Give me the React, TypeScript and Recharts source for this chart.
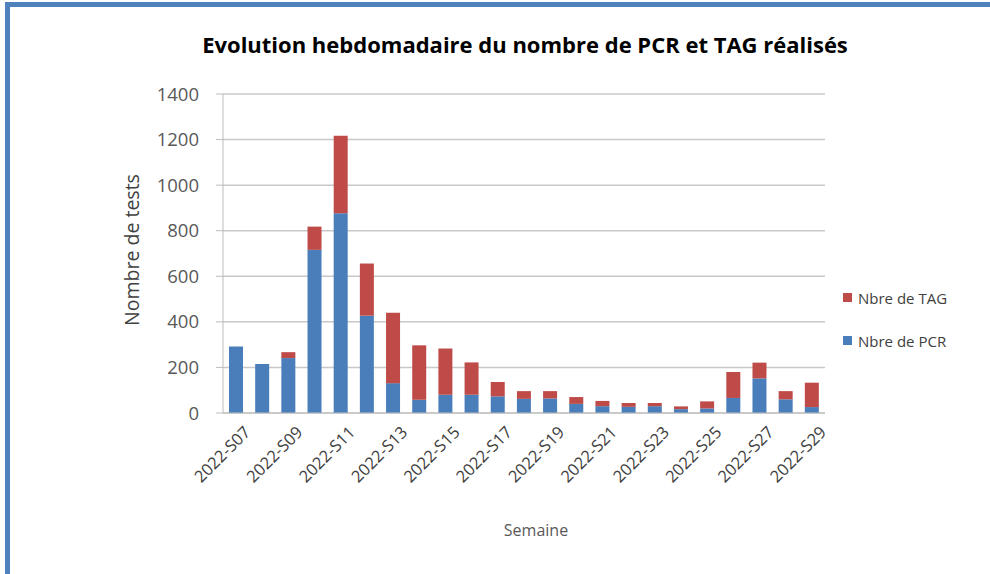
import React from 'react';
import { BarChart, Bar, XAxis, YAxis, CartesianGrid, Label } from 'recharts';

const weeks = [
	'2022-S07', '2022-S08', '2022-S09', '2022-S10', '2022-S11', '2022-S12',
	'2022-S13', '2022-S14', '2022-S15', '2022-S16', '2022-S17', '2022-S18',
	'2022-S19', '2022-S20', '2022-S21', '2022-S22', '2022-S23', '2022-S24',
	'2022-S25', '2022-S26', '2022-S27', '2022-S28', '2022-S29'
];
const pcrValues = [292, 215, 241, 716, 877, 427, 131, 58, 80, 80, 73, 62, 64, 40, 30, 27, 30, 17, 20, 66, 152, 60, 26];
const tagValues = [0, 0, 26, 102, 340, 229, 309, 239, 203, 142, 63, 34, 32, 30, 23, 17, 14, 12, 31, 114, 69, 36, 107];
const yTicks = [0, 200, 400, 600, 800, 1000, 1200, 1400];

const data = weeks.map((week, i) => ({ week, pcr: pcrValues[i], tag: tagValues[i] }));

const FONT = '"Open Sans", sans-serif';
const BLUE = '#4a7ebb';
const RED = '#be4b48';

const WeekTick = (props: any) => {
	const { x, y, payload } = props;
	return (
		<g transform={`translate(${x + 9},${y + 6})`}>
			<text
				x={0}
				y={0}
				dy={9}
				textAnchor="end"
				transform="rotate(-45)"
				fontSize={16.5}
				fontFamily={FONT}
				fill="#404040"
			>
				{payload.value}
			</text>
		</g>
	);
};

const App: React.FC = () => {
	return (
		<div style={{ position: 'absolute', left: 0, top: 0, width: 990, height: 574, background: '#fff', overflow: 'hidden' }}>
			<div style={{ position: 'absolute', left: 5, top: 2, width: 990, height: 5, background: '#4f81bd' }} />
			<div style={{ position: 'absolute', left: 5, top: 2, width: 5, height: 580, background: '#4f81bd' }} />
			<div
				style={{
					position: 'absolute',
					left: 0,
					width: 1050,
					top: 29,
					textAlign: 'center',
					fontFamily: FONT,
					fontWeight: 700,
					fontSize: 22,
					color: '#000'
				}}
			>
				Evolution hebdomadaire du nombre de PCR et TAG réalisés
			</div>
			<BarChart
				width={990}
				height={574}
				data={data}
				margin={{ top: 94, right: 165, left: 123, bottom: 36 }}
				style={{ position: 'absolute', left: 0, top: 0 }}
			>
				<CartesianGrid vertical={false} stroke="#c8c8c8" strokeWidth={1.5} />
				<XAxis
					dataKey="week"
					interval={1}
					tickLine={false}
					stroke="#bdbdbd"
					height={125}
					tick={<WeekTick />}
				>
					<Label
						value="Semaine"
						position="insideBottom"
						offset={2}
						dx={12}
						style={{ fontFamily: FONT, fontSize: 16, fill: '#595959' }}
					/>
				</XAxis>
				<YAxis
					width={100}
					domain={[0, 1400]}
					ticks={yTicks}
					tickSize={7}
					tickMargin={17}
					stroke="#bdbdbd"
					tick={{ fontFamily: FONT, fontSize: 18.5, fill: '#595959' }}
				>
					<Label
						content={() => (
							<text
								x={131}
								y={250}
								transform="rotate(-90 131 250)"
								textAnchor="middle"
								dominantBaseline="central"
								fontFamily={FONT}
								fontSize={19.5}
								fill="#404040"
							>
								Nombre de tests
							</text>
						)}
					/>
				</YAxis>
				<Bar dataKey="pcr" name="Nbre de PCR" stackId="a" fill={BLUE} barSize={14} isAnimationActive={false} />
				<Bar dataKey="tag" name="Nbre de TAG" stackId="a" fill={RED} barSize={14} isAnimationActive={false} />
			</BarChart>
			<div style={{ position: 'absolute', left: 843, top: 276, fontFamily: FONT, fontSize: 15, color: '#404040' }}>
				{[
					{ label: 'Nbre de TAG', color: RED },
					{ label: 'Nbre de PCR', color: BLUE }
				].map((item) => (
					<div key={item.label} style={{ display: 'flex', alignItems: 'center', height: 43 }}>
						<span style={{ display: 'inline-block', width: 9, height: 9, background: item.color, marginRight: 6 }} />
						{item.label}
					</div>
				))}
			</div>
		</div>
	);
};

export default App;
